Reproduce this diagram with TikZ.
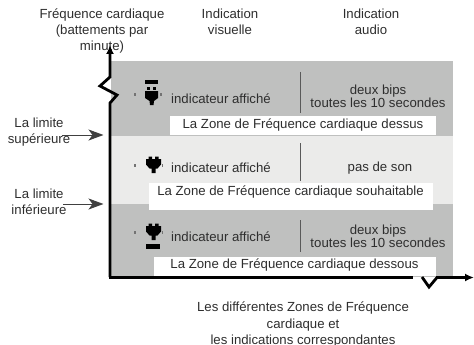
\documentclass[tikz,border=0pt]{standalone}
\usepackage{fontspec}
\setmainfont{Liberation Sans}
\usetikzlibrary{arrows.meta}
\definecolor{bandA}{HTML}{BFC0BF}
\definecolor{bandB}{HTML}{EBEBEA}
\definecolor{txt}{HTML}{2E2E2E}
\tikzset{
  lbl/.style={text=txt,font=\fontsize{13.2}{16}\selectfont,align=center,inner sep=0pt},
  whitebox/.style={fill=white,draw=none},
  axis/.style={line width=2.8pt,black,line join=miter},
  limit/.style={draw=black!75,line width=1pt,-{Stealth[length=15pt,width=11pt,inset=4pt]}},
  sep/.style={draw=black!65,line width=0.8pt},
  tick/.style={fill=black!55,draw=none}
}
\newcommand{\heartat}[2]{%
  \fill[black] (#1-7.5,#2-6) -- (#1-5,#2-6) -- (#1-5,#2-8.5) -- (#1-1.5,#2-8.5) -- (#1-1.5,#2-6) -- (#1+1.5,#2-6) -- (#1+1.5,#2-8.5) -- (#1+5,#2-8.5) -- (#1+5,#2-6) -- (#1+7.5,#2-6) -- (#1+7.5,#2-0.5) -- (#1+4,#2+3.5) -- (#1+2,#2+3.5) -- (#1+2,#2+8) -- (#1-2,#2+8) -- (#1-2,#2+3.5) -- (#1-4,#2+3.5) -- (#1-7.5,#2-0.5) -- cycle;
  \fill[tick] (#1-19.5,#2-1) rectangle (#1-18,#2+1.5);
  \fill[tick] (#1+8,#2-1) rectangle (#1+9.5,#2+1.5);
}
\begin{document}
\begin{tikzpicture}[x=1pt,y=-1pt]
\useasboundingbox (0,0) rectangle (474,345);
% bands
\fill[bandA] (111,61) rectangle (453,136);
\fill[bandB] (111,136) rectangle (453,204);
\fill[bandA] (111,204) rectangle (453,277);
% white boxes and captions
\fill[whitebox] (170,116) rectangle (436,135);
\fill[whitebox] (149,183) rectangle (433,210);
\fill[whitebox] (154,257) rectangle (436,276);
\node[lbl] (capA) at (303,125.5) {La Zone de Fréquence cardiaque dessus};
\node[lbl] (capB) at (290.5,192.5) {La Zone de Fréquence cardiaque souhaitable};
\node[lbl] (capC) at (294.5,265.5) {La Zone de Fréquence cardiaque dessous};
% headers
\node[lbl] (hfc) at (102,31) {Fréquence cardiaque\\(battements par\\minute)};
\node[lbl] (hvis) at (230,21.5) {Indication\\visuelle};
\node[lbl] (haud) at (371,21.5) {Indication\\audio};
% limits
\node[lbl] (lsup) at (39,132.5) {La limite\\supérieure};
\node[lbl] (linf) at (39,201.5) {La limite\\inférieure};
\coordinate (tipsup) at (103.5,135);
\coordinate (tipinf) at (103.5,204);
\coordinate (startsup) at (62,135);
\coordinate (startinf) at (63,204);
\draw[limit] (startsup) -- (tipsup);
\draw[limit] (startinf) -- (tipinf);
% rows
\node[lbl] (iA) at (221,98.5) {indicateur affiché};
\node[lbl] (iB) at (221,168) {indicateur affiché};
\node[lbl] (iC) at (221,236.5) {indicateur affiché};
\draw[sep] (300.5,72) -- (300.5,113);
\draw[sep] (300.5,143) -- (300.5,181);
\draw[sep] (300.5,220) -- (300.5,252);
\node[lbl,font=\fontsize{13.2}{13}\selectfont] (aA) at (378,96) {deux bips\\toutes les 10 secondes};
\node[lbl] (aB) at (380,168.5) {pas de son};
\node[lbl,font=\fontsize{13.2}{13}\selectfont] (aC) at (378,236.5) {deux bips\\toutes les 10 secondes};
% icons
\fill[black] (145,80) rectangle (158,84);
\fill[black] (147,87) rectangle (150,90);
\fill[black] (153,87) rectangle (156,90);
\fill[black] (145,91) -- (158,91) -- (158,98) -- (154,101) -- (153.5,105) -- (150,105) -- (149.5,101) -- (145,98) -- cycle;
\fill[tick] (134,93) rectangle (135.5,96);
\fill[tick] (160,93) rectangle (161.5,96);
\heartat{153.5}{165}
\heartat{153.5}{232}
\fill[black] (146,244) rectangle (160,249);
% axes
\draw[axis,-{Latex[length=9pt,width=8pt]}] (110,277) -- (110,103) -- (117,95) -- (100,86) -- (110,77) -- (110,45);
\draw[axis] (109,277.5) -- (413,277.5);
\draw[axis,-{Latex[length=9pt,width=8pt]}] (422,277) -- (429,287) -- (437,277.5) -- (474,277.5);
% caption
\node[lbl,font=\fontsize{13.2}{16.5}\selectfont] (foot) at (303,325) {Les différentes Zones de Fréquence\\cardiaque et\\les indications correspondantes};
\end{tikzpicture}
\end{document}
